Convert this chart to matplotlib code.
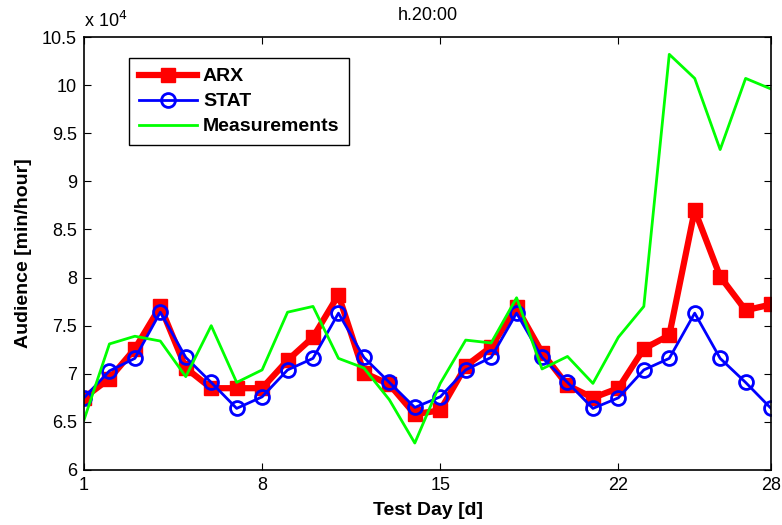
import matplotlib
matplotlib.use("Agg")
import matplotlib.pyplot as plt

plt.rcParams['font.family'] = ['Liberation Sans', 'DejaVu Sans']

# Data (audience values in units of 10^4 min/hour)
days = list(range(1, 29))
arx = [6.75, 6.95, 7.26, 7.70, 7.06, 6.85, 6.85, 6.85, 7.14, 7.38,
       7.82, 7.01, 6.89, 6.58, 6.62, 7.08, 7.28, 7.69, 7.22, 6.88,
       6.75, 6.85, 7.26, 7.40, 8.70, 8.01, 7.66, 7.72]
stat = [6.75, 7.03, 7.16, 7.64, 7.17, 6.91, 6.64, 6.76, 7.04, 7.16,
        7.63, 7.17, 6.91, 6.65, 6.76, 7.04, 7.17, 7.63, 7.17, 6.91,
        6.64, 6.75, 7.04, 7.16, 7.63, 7.16, 6.91, 6.64]
meas = [6.52, 7.31, 7.39, 7.34, 6.97, 7.50, 6.91, 7.04, 7.64, 7.70,
        7.16, 7.06, 6.73, 6.28, 6.90, 7.35, 7.32, 7.79, 7.05, 7.18,
        6.90, 7.38, 7.70, 10.32, 10.07, 9.33, 10.07, 9.96]

xticks = [1, 8, 15, 22, 28]
yticks = [6, 6.5, 7, 7.5, 8, 8.5, 9, 9.5, 10, 10.5]

fig = plt.figure(figsize=(7.82, 5.25), dpi=100)
ax = fig.add_axes([0.1074, 0.1048, 0.8786, 0.8247])

ax.plot(days, arx, color=(1, 0, 0), lw=4.5, marker='s', markersize=9.5,
        label='ARX')
ax.plot(days, stat, color=(0, 0, 1), lw=2, marker='o', markersize=10,
        markerfacecolor='none', markeredgewidth=2, label='STAT')
ax.plot(days, meas, color=(0, 1, 0), lw=2, label='Measurements')

ax.set_xlim(1, 28)
ax.set_ylim(6, 10.5)
ax.set_xticks(xticks)
ax.set_yticks(yticks)
ax.set_yticklabels(['6', '6.5', '7', '7.5', '8', '8.5', '9', '9.5', '10', '10.5'])
ax.tick_params(direction='in', top=True, right=True, labelsize=13, length=5,
               pad=5)
for s in ax.spines.values():
    s.set_linewidth(1.2)

ax.set_title('h.20:00', fontsize=13, pad=12)
ax.set_xlabel('Test Day [d]', fontsize=14, fontweight='bold', labelpad=6)
ax.set_ylabel('Audience [min/hour]', fontsize=14, fontweight='bold', labelpad=7)
ax.text(0.0, 1.015, r'x 10$^4$', transform=ax.transAxes, fontsize=13,
        ha='left', va='bottom')

leg = ax.legend(loc='upper left', bbox_to_anchor=(0.0655, 0.9515),
                borderaxespad=0, numpoints=1,
                prop={'weight': 'bold', 'size': 14}, fancybox=False,
                edgecolor='black', framealpha=1, handlelength=3.0,
                handletextpad=0.3, borderpad=0.5, labelspacing=0.38)
leg.get_frame().set_linewidth(1.0)

fig.savefig('out.png', dpi=100)
